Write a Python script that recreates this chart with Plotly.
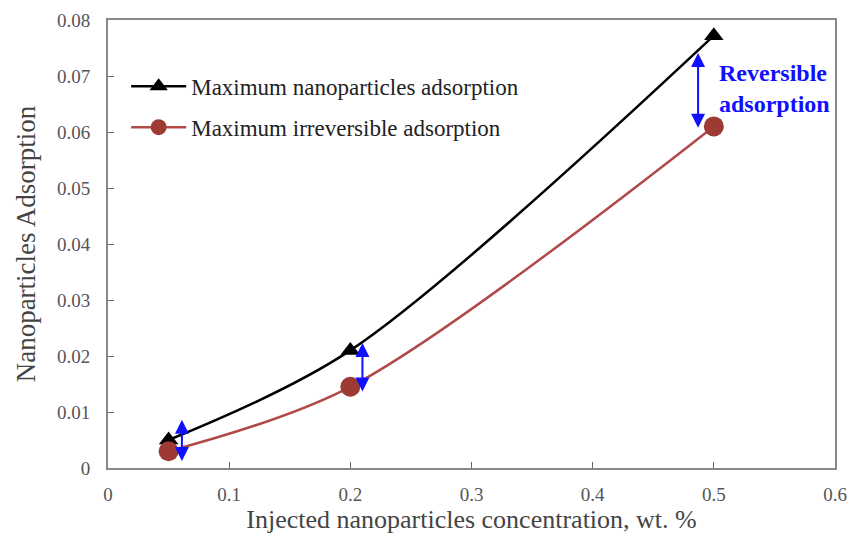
import plotly.graph_objects as go

conc = [0.05, 0.2, 0.5]
max_ads = [0.0050, 0.0210, 0.0772]
irrev_ads = [0.0030, 0.0145, 0.0610]
x_ticks = [0, 0.1, 0.2, 0.3, 0.4, 0.5, 0.6]
x_labels = ["0", "0.1", "0.2", "0.3", "0.4", "0.5", "0.6"]
y_ticks = [0, 0.01, 0.02, 0.03, 0.04, 0.05, 0.06, 0.07, 0.08]
y_labels = ["0", "0.01", "0.02", "0.03", "0.04", "0.05", "0.06", "0.07", "0.08"]
# reversible-adsorption arrows: x, bottom, top
arrow_x = [0.061, 0.21, 0.487]
arrow_lo = [0.0010, 0.0134, 0.0605]
arrow_hi = [0.0086, 0.0223, 0.0741]

FONT = "Liberation Serif"
fig = go.Figure()
fig.add_trace(go.Scatter(
    x=conc, y=max_ads, mode="lines+markers", name="Maximum nanoparticles adsorption",
    legendgroup="a",
    line=dict(color="black", width=2.5, shape="spline", smoothing=0.9),
    marker=dict(symbol="triangle-up", size=17, color="black")))
fig.add_trace(go.Scatter(
    x=conc, y=irrev_ads, mode="lines+markers", name="Maximum irreversible adsorption",
    legendgroup="b",
    line=dict(color="#B04A48", width=2.5, shape="spline", smoothing=0.9),
    marker=dict(symbol="circle", size=20, color="#9E3A34")))

for ax_, lo, hi in zip(arrow_x, arrow_lo, arrow_hi):
    fig.add_annotation(x=ax_, y=hi, ax=ax_, ay=lo, xref="x", yref="y", axref="x", ayref="y",
                       text="", showarrow=True, arrowhead=2, arrowside="end+start",
                       arrowsize=1.4, arrowwidth=2, arrowcolor="#1010FF")

fig.add_annotation(x=0.503, y=0.0677, xref="x", yref="y", xanchor="left", yanchor="middle",
                   text="<b>Reversible<br>adsorption</b>", showarrow=False, align="left",
                   font=dict(family=FONT, size=24, color="#1010FF"))

fig.update_layout(
    width=848, height=540, margin=dict(l=108, r=13, t=20, b=72),
    plot_bgcolor="white", paper_bgcolor="white",
    font=dict(family=FONT, color="#333333"),
    showlegend=True,
    legend=dict(x=0.025, y=0.90, xanchor="left", yanchor="top", bgcolor="rgba(0,0,0,0)",
                font=dict(family=FONT, size=23, color="#222222"), itemwidth=55,
                traceorder="grouped", tracegroupgap=8),
    xaxis=dict(range=[0, 0.6], tickvals=x_ticks, ticktext=x_labels, ticks="inside",
               ticklen=6, tickcolor="#666666", showgrid=False, zeroline=False,
               showline=True, linecolor="#888888", linewidth=2, mirror=True,
               ticklabelstandoff=8, automargin=False,
               tickfont=dict(family=FONT, size=19, color="#555555"),
               title=dict(text="Injected nanoparticles concentration, wt. %", standoff=4,
                          font=dict(family=FONT, size=26, color="#444444"))),
    yaxis=dict(range=[0, 0.08], tickvals=y_ticks, ticktext=y_labels, ticks="inside",
               ticklen=6, tickcolor="#666666", showgrid=False, zeroline=False,
               showline=True, linecolor="#888888", linewidth=2, mirror=True,
               ticklabelstandoff=12, automargin=False,
               tickfont=dict(family=FONT, size=19, color="#555555"),
               title=dict(text="Nanoparticles Adsorption", standoff=14,
                          font=dict(family=FONT, size=27, color="#444444"))),
)
fig.write_html("out.html")
